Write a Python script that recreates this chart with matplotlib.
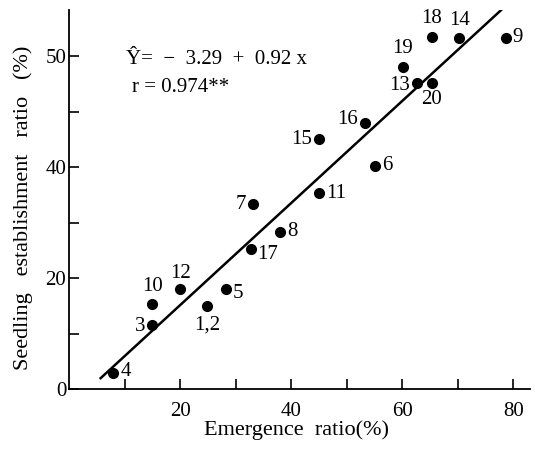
import numpy as np
import matplotlib.pyplot as plt

plt.rcParams['font.family'] = ['Liberation Serif', 'DejaVu Serif']

# emergence ratio (%) and seedling establishment ratio (%) per line
labels = ['1,2', '3', '4', '5', '6', '7', '8', '9', '10', '11', '12',
          '13', '14', '15', '16', '17', '18', '19', '20']
emergence = [24.8, 15.0, 8.0, 28.2, 55.1, 33.1, 38.0, 78.6, 15.0, 45.1, 20.0,
             62.6, 70.3, 45.0, 53.3, 32.8, 65.3, 60.1, 65.3]
establish = [15.0, 11.5, 2.9, 18.0, 40.2, 33.3, 28.3, 63.3, 15.3, 35.4, 18.1,
             55.2, 63.2, 45.0, 48.0, 25.2, 63.5, 58.1, 55.2]

# label placement: (dx, dy) in points, ha, va
where = {
    '1,2': (0, -7, 'center', 'top'),
    '3': (-5, -1, 'right', 'center'),
    '4': (5, 1, 'left', 'center'),
    '5': (5, -3, 'left', 'center'),
    '6': (5, 0, 'left', 'center'),
    '7': (-5, 0, 'right', 'center'),
    '8': (5, 0, 'left', 'center'),
    '9': (5, 0, 'left', 'center'),
    '10': (0, 6, 'center', 'bottom'),
    '11': (5, -1, 'left', 'center'),
    '12': (0, 4, 'center', 'bottom'),
    '13': (-5, -2, 'right', 'center'),
    '14': (0, 6, 'center', 'bottom'),
    '15': (-5, 0, 'right', 'center'),
    '16': (-5, 2, 'right', 'center'),
    '17': (4, -4, 'left', 'center'),
    '18': (0, 6, 'center', 'bottom'),
    '19': (0, 6, 'center', 'bottom'),
    '20': (0, -5, 'center', 'top'),
}

# regression Y = a + b x
a, b = -3.29, 0.92
line_x = np.array([5.7, 78.2])

xticks = [20, 40, 60, 80]
yticks = [0, 20, 40, 60]
ytick_labels = ['0', '20', '40', '50']

fig = plt.figure(figsize=(5.35, 4.53), dpi=100)
ax = fig.add_axes([69/535, 64/453, 461/535, 379/453])

ax.plot(line_x, a + b*line_x, color='black', lw=1.8)
ax.plot(emergence, establish, 'o', color='black', ms=7, clip_on=False)

for lab, xx, yy in zip(labels, emergence, establish):
    dx, dy, ha, va = where[lab]
    ax.annotate(lab, (xx, yy), xytext=(dx, dy), textcoords='offset points',
                ha=ha, va=va, fontsize=15)

fig.text(126/535, 1 - 60/453, 'Ŷ=  −  3.29  +  0.92 x', fontsize=15, va='center', ha='left')
fig.text(132/535, 1 - 87/453, 'r = 0.974**', fontsize=15, va='center', ha='left')

ax.set_xlim(0, 83)
ax.set_ylim(0, 68.3)
ax.set_xticks(xticks)
ax.set_xticks([10, 30, 50, 70], minor=True)
ax.set_yticks(yticks)
ax.set_yticklabels(ytick_labels)
ax.set_yticks([10, 30, 50], minor=True)
ax.tick_params(which='both', direction='in', length=7, width=1.2)
ax.tick_params(axis='x', labelsize=15, pad=9)
ax.tick_params(axis='y', labelsize=15, pad=2)

for s in ['top', 'right']:
    ax.spines[s].set_visible(False)
for s in ['left', 'bottom']:
    ax.spines[s].set_linewidth(1.3)

fig.text(296/535, 1 - 430/453, 'Emergence  ratio(%)', fontsize=16, ha='center', va='center')
fig.text(23/535, 1 - 208/453, 'Seedling   establishment   ratio   (%)', fontsize=16,
         ha='center', va='center', rotation=90)

fig.savefig('out.png', dpi=100)
